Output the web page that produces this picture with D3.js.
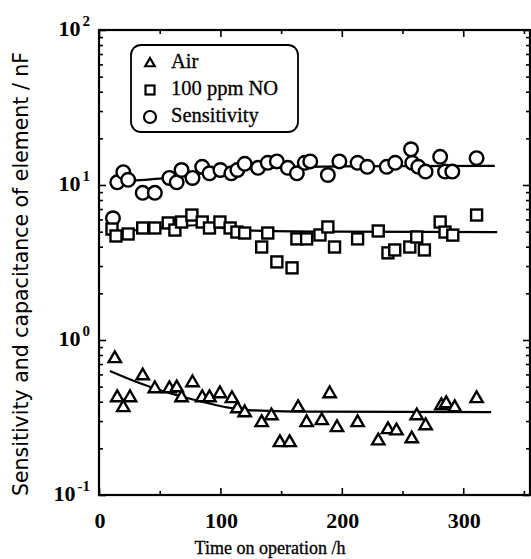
<!DOCTYPE html>
<html>
<head>
<meta charset="utf-8">
<script src="https://cdn.jsdelivr.net/npm/d3@7"></script>
<style>
  body { margin: 0; background: #fff; }
  svg { display: block; }
</style>
</head>
<body>
<script>
// waarden
var airHours = [13, 15, 20, 25.5, 36, 46, 58, 64, 68, 77, 85, 91, 99.6, 109.5, 114, 120, 134, 142, 149, 157, 164, 171, 183.5, 190, 196, 213, 230, 238, 245, 257.6, 261.7, 269, 282, 286, 293, 311];
var airValues = [0.766, 0.429, 0.370, 0.429, 0.594, 0.490, 0.490, 0.497, 0.429, 0.536, 0.429, 0.429, 0.455, 0.423, 0.364, 0.343, 0.296, 0.328, 0.220, 0.220, 0.370, 0.296, 0.305, 0.455, 0.275, 0.296, 0.226, 0.267, 0.262, 0.233, 0.328, 0.283, 0.381, 0.393, 0.370, 0.423];

var noHours = [10.7, 14, 24, 36, 46, 57, 62.5, 68, 76.5, 85, 91, 99.6, 108, 113.6, 120, 134, 139, 146.5, 159, 163, 171, 182, 188.5, 194, 213, 230, 238, 243.6, 256, 261.7, 268, 281, 285, 291.4, 311];
var noValues = [5.2, 4.69, 4.83, 5.28, 5.28, 5.69, 5.12, 5.77, 6.40, 5.77, 5.28, 5.77, 5.28, 4.97, 4.90, 3.98, 4.90, 3.19, 2.92, 4.49, 4.49, 4.76, 5.36, 3.98, 4.49, 5.05, 3.65, 3.81, 3.98, 4.62, 3.81, 5.77, 4.97, 4.75, 6.40];

var sensHours = [11.5, 15, 20, 24, 36, 46, 58, 64, 68, 77, 85, 91, 100, 109, 114, 120, 131, 139, 146.5, 155.5, 163, 169.5, 174, 188.5, 198, 213, 221, 237, 244, 257, 258, 263, 269, 281, 285, 291, 311];
var sensValues = [6.1, 10.4, 12.1, 10.8, 8.9, 8.9, 11.1, 10.4, 12.5, 11.1, 13.1, 11.9, 12.5, 11.9, 12.5, 13.7, 12.9, 13.9, 14.2, 12.9, 11.9, 13.9, 14.2, 11.6, 14.2, 13.9, 13.1, 13.1, 13.9, 17.0, 13.9, 13.1, 12.2, 15.2, 12.2, 12.2, 14.9];

// lijnen door de punten
var airFitHours = [9, 31, 79, 123, 180, 323];
var airFitValues = [0.631, 0.536, 0.41, 0.353, 0.345, 0.343];
var noFitHours = [10, 50, 80, 120, 200, 328];
var noFitValues = [4.9, 5.3, 5.5, 5.1, 5.0, 4.97];
var sensFitHours = [10, 50, 100, 150, 200, 326];
var sensFitValues = [10.5, 11.0, 12.3, 13.0, 13.2, 13.3];

var yMajor = [0.1, 1, 10, 100];
var yExponents = ["-1", "0", "1", "2"];
var xMajor = [0, 100, 200, 300];
var xMinor = [50, 150, 250, 350];

var legendLabels = ["Air", "100 ppm NO", "Sensitivity"];

var plotLeft = 99, plotRight = 530, plotTop = 30, plotBottom = 495;

var svg = d3.select("body").append("svg")
    .attr("width", 531)
    .attr("height", 559);

var x = d3.scaleLinear().domain([0, 355]).range([plotLeft, plotRight]);
var y = d3.scaleLog().domain([0.1, 100]).range([plotBottom, plotTop]);

// kleine log-tickjes tussen de decaden
var yMinor = [];
[0.1, 1, 10].forEach(function (d) {
    for (var k = 2; k <= 9; k++) yMinor.push(d * k);
});

function tickAxis(axis, transform) {
    var g = svg.append("g")
        .attr("transform", transform)
        .call(axis);
    g.select(".domain").remove();
    g.selectAll(".tick line").attr("stroke", "#000").attr("stroke-width", 1.6);
    return g;
}

tickAxis(d3.axisLeft(y).tickValues(yMajor).tickSize(-7).tickFormat(""), "translate(" + plotLeft + ",0)");
tickAxis(d3.axisLeft(y).tickValues(yMinor).tickSize(-4).tickFormat(""), "translate(" + plotLeft + ",0)");
tickAxis(d3.axisRight(y).tickValues(yMajor).tickSize(-7).tickFormat(""), "translate(" + plotRight + ",0)");
tickAxis(d3.axisRight(y).tickValues(yMinor).tickSize(-4).tickFormat(""), "translate(" + plotRight + ",0)");
tickAxis(d3.axisBottom(x).tickValues(xMajor).tickSize(-7).tickFormat(""), "translate(0," + plotBottom + ")");
tickAxis(d3.axisBottom(x).tickValues(xMinor).tickSize(-4).tickFormat(""), "translate(0," + plotBottom + ")");
tickAxis(d3.axisTop(x).tickValues(xMajor).tickSize(-7).tickFormat(""), "translate(0," + plotTop + ")");
tickAxis(d3.axisTop(x).tickValues(xMinor).tickSize(-4).tickFormat(""), "translate(0," + plotTop + ")");

// kader
svg.append("rect")
    .attr("x", plotLeft)
    .attr("y", plotTop)
    .attr("width", plotRight - plotLeft)
    .attr("height", plotBottom - plotTop)
    .attr("fill", "none")
    .attr("stroke", "#000")
    .attr("stroke-width", 2.2);

// y labels 10^n
var yl = svg.append("g")
    .attr("font-family", "'Liberation Serif', serif")
    .attr("font-weight", "bold")
    .attr("text-anchor", "end");
yMajor.forEach(function (d, i) {
    var t = yl.append("text")
        .attr("x", 90)
        .attr("y", y(d) + 6);
    t.append("tspan").attr("font-size", 22).text("10");
    t.append("tspan").attr("font-size", 15).attr("dx", 2).attr("dy", -10).text(yExponents[i]);
});

svg.append("g")
    .attr("font-family", "'Liberation Serif', serif")
    .attr("font-weight", "bold")
    .attr("font-size", 22)
    .attr("text-anchor", "middle")
    .selectAll("text")
    .data(xMajor)
    .enter().append("text")
    .attr("x", function (d) { return x(d) + 1; })
    .attr("y", 528)
    .text(function (d) { return d; });

svg.append("text")
    .attr("x", 270)
    .attr("y", 554)
    .attr("font-family", "'Liberation Serif', serif")
    .attr("font-size", 18)
    .attr("stroke", "#000")
    .attr("stroke-width", 0.3)
    .attr("text-anchor", "middle")
    .text("Time on operation /h");

svg.append("text")
    .attr("transform", "translate(28,274) rotate(-90)")
    .attr("font-family", "'DejaVu Sans', sans-serif")
    .attr("font-size", 20.5)
    .attr("text-anchor", "middle")
    .text("Sensitivity and capacitance of element / nF");

// fitlijnen
var line = d3.line()
    .x(function (d) { return x(d[0]); })
    .y(function (d) { return y(d[1]); })
    .curve(d3.curveMonotoneX);

[[airFitHours, airFitValues], [noFitHours, noFitValues], [sensFitHours, sensFitValues]].forEach(function (s) {
    svg.append("path")
        .datum(d3.zip(s[0], s[1]))
        .attr("fill", "none")
        .attr("stroke", "#000")
        .attr("stroke-width", 2.2)
        .attr("d", line);
});

function triangle(cx, cy, r) {
    return "M" + cx + "," + (cy - r) + "L" + (cx + r * 0.95) + "," + (cy + r * 0.65) + "L" + (cx - r * 0.95) + "," + (cy + r * 0.65) + "Z";
}

var marks = svg.append("g")
    .attr("fill", "#fff")
    .attr("stroke", "#000")
    .attr("stroke-width", 2.4);

marks.selectAll(".sens")
    .data(d3.zip(sensHours, sensValues))
    .enter().append("circle")
    .attr("cx", function (d) { return x(d[0]); })
    .attr("cy", function (d) { return y(d[1]); })
    .attr("r", 6.8);

marks.selectAll(".no")
    .data(d3.zip(noHours, noValues))
    .enter().append("rect")
    .attr("x", function (d) { return x(d[0]) - 5.5; })
    .attr("y", function (d) { return y(d[1]) - 5.5; })
    .attr("width", 11)
    .attr("height", 11);

marks.selectAll(".air")
    .data(d3.zip(airHours, airValues))
    .enter().append("path")
    .attr("d", function (d) { return triangle(x(d[0]), y(d[1]), 6.5); });

// legenda
var legend = svg.append("g");
legend.append("rect")
    .attr("x", 131)
    .attr("y", 45)
    .attr("width", 167)
    .attr("height", 87)
    .attr("rx", 10)
    .attr("fill", "#fff")
    .attr("stroke", "#000")
    .attr("stroke-width", 1.8);

legend.append("path")
    .attr("d", triangle(150, 63, 5))
    .attr("fill", "none").attr("stroke", "#000").attr("stroke-width", 2.2);
legend.append("rect")
    .attr("x", 145.5).attr("y", 85.5).attr("width", 9).attr("height", 9)
    .attr("fill", "none").attr("stroke", "#000").attr("stroke-width", 2.2);
legend.append("circle")
    .attr("cx", 150).attr("cy", 117).attr("r", 6)
    .attr("fill", "none").attr("stroke", "#000").attr("stroke-width", 2.2);

legend.selectAll("text")
    .data(legendLabels)
    .enter().append("text")
    .attr("x", 171)
    .attr("y", function (d, i) { return 68 + i * 27; })
    .attr("font-family", "'Liberation Serif', serif")
    .attr("font-size", 20.5)
    .attr("stroke", "#000")
    .attr("stroke-width", 0.3)
    .text(function (d) { return d; });
</script>
</body>
</html>
